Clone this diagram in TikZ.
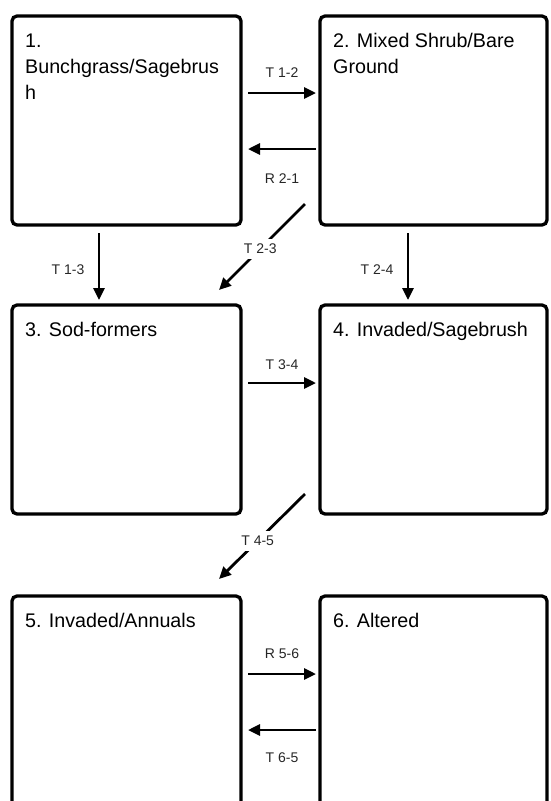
\documentclass[tikz,border=0pt]{standalone}
\usepackage{fontspec}
\setmainfont{Liberation Sans}
\usetikzlibrary{arrows.meta,calc}
\newcommand{\firstln}{\rule{0pt}{15pt}}
\tikzset{
  statebox/.style={draw=black, line width=3.3pt, rounded corners=5pt, minimum width=229pt, minimum height=209pt, anchor=north west, inner sep=0pt, outer sep=0pt},
  statetext/.style={anchor=north west, inner sep=0pt, align=left, font=\fontsize{19.7pt}{26pt}\selectfont},
  arr/.style={line width=2.8pt, -{Triangle[length=12pt,width=11pt]}},
  lbl/.style={inner sep=1pt, font=\fontsize{14pt}{16pt}\selectfont, text=black!85},
  gaplbl/.style={lbl, fill=white, inner xsep=1pt, inner ysep=5pt}
}
\begin{document}
\begin{tikzpicture}[x=1pt,y=-1pt]
\useasboundingbox (0,0) rectangle (550,801);
\clip (0,0) rectangle (550,801);
\node[statebox] (b1) at (12,16) {};
\node[statebox, minimum width=227pt] (b2) at (320,16) {};
\node[statebox] (b3) at (12,305) {};
\node[statebox, minimum width=227pt] (b4) at (320,305) {};
\node[statebox, minimum height=230pt] (b5) at (12,596) {};
\node[statebox, minimum width=227pt, minimum height=230pt] (b6) at (320,596) {};

\node[statetext] (t1) at ($(b1.north west)+(13,16)$) {\firstln 1.\\Bunchgrass/Sagebrus\\h};
\node[statetext] (t2) at ($(b2.north west)+(13,16)$) {\firstln 2. Mixed Shrub/Bare\\Ground};
\node[statetext] (t3) at ($(b3.north west)+(13,16)$) {\firstln 3. Sod-formers};
\node[statetext] (t4) at ($(b4.north west)+(13,16)$) {\firstln 4. Invaded/Sagebrush};
\node[statetext] (t5) at ($(b5.north west)+(13,16)$) {\firstln 5. Invaded/Annuals};
\node[statetext] (t6) at ($(b6.north west)+(13,16)$) {\firstln 6. Altered};

% T 1-2 and R 2-1
\draw[arr] ($(b1.north east)+(7,77)$) -- ($(b2.north west)+(-4,77)$);
\node[lbl] (l12) at (282,73) {T 1-2};
\draw[arr] ($(b2.north west)+(-4,133)$) -- ($(b1.north east)+(7,133)$);
\node[lbl] (l21) at (282,179) {R 2-1};

% T 1-3
\draw[arr] ($(b1.south west)+(87,8)$) -- ($(b3.north west)+(87,-5)$);
\node[lbl] (l13) at (68,270) {T 1-3};
% T 2-4
\draw[arr] ($(b2.south west)+(88,8)$) -- ($(b4.north west)+(88,-5)$);
\node[lbl] (l24) at (377,270) {T 2-4};
% T 2-3
\draw[arr] ($(b2.south west)+(-15,-21)$) -- node[gaplbl, pos=0.52] (l23) {T 2-3} ($(b3.north east)+(-22,-15)$);

% T 3-4
\draw[arr] ($(b3.north east)+(7,78)$) -- ($(b4.north west)+(-4,78)$);
\node[lbl] (l34) at (282,365) {T 3-4};

% T 4-5
\draw[arr] ($(b4.south west)+(-15,-20)$) -- node[gaplbl, pos=0.55] (l45) {T 4-5} ($(b5.north east)+(-22,-17)$);

% R 5-6 and T 6-5
\draw[arr] ($(b5.north east)+(7,78)$) -- ($(b6.north west)+(-4,78)$);
\node[lbl] (l56) at (282,654) {R 5-6};
\draw[arr] ($(b6.north west)+(-4,134)$) -- ($(b5.north east)+(7,134)$);
\node[lbl] (l65) at (282,758) {T 6-5};
\end{tikzpicture}
\end{document}
